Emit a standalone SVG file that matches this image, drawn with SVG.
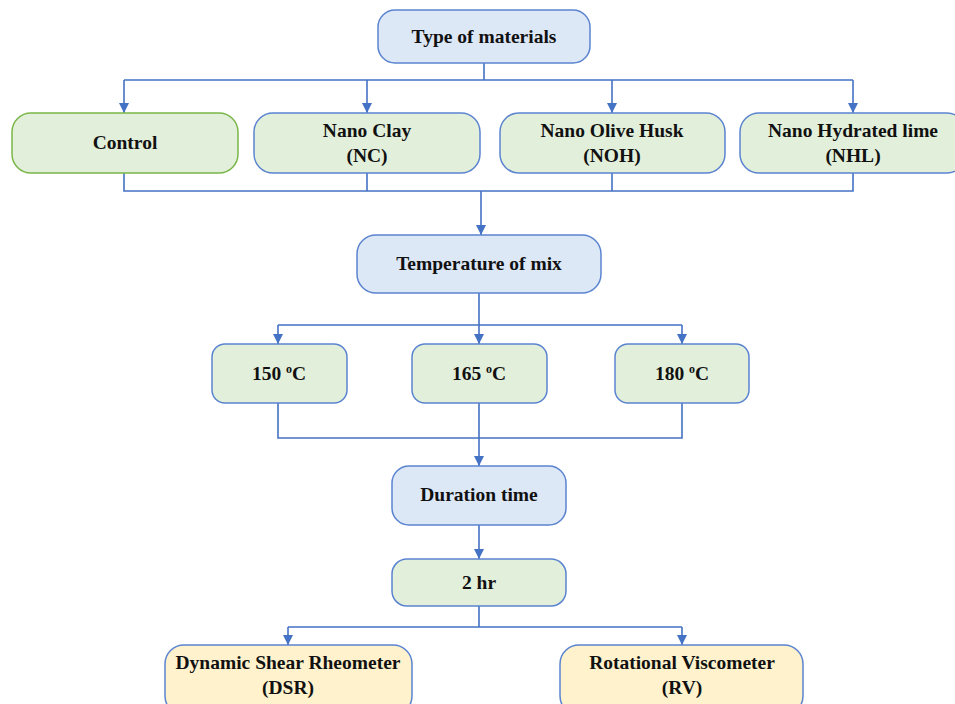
<svg xmlns="http://www.w3.org/2000/svg" width="955" height="704" viewBox="0 0 955 704">
<defs>
<marker id="arr" viewBox="0 0 10 10" refX="10" refY="5" markerWidth="10" markerHeight="10" markerUnits="userSpaceOnUse" orient="auto">
<path d="M0,0 L10,5 L0,10 z" fill="#4472c4"/>
</marker>
<style>
.blue{fill:#dde8f6;stroke:#5b84d0;stroke-width:1.5}
.green{fill:#e2efda;stroke:#5b84d0;stroke-width:1.5}
.greeng{fill:#e2efda;stroke:#7ab648;stroke-width:1.5}
.yellow{fill:#fff2cc;stroke:#5b84d0;stroke-width:1.5}
.t{font-weight:bold;font-size:19.5px;fill:#111;text-anchor:middle}
.c{fill:none;stroke:#4472c4;stroke-width:1.6}
.sup{font-size:12px}
</style>
</defs>
<rect width="955" height="704" fill="#fff"/>
<g id="connectors">
<path class="c" d="M484,63 V80 M124,80 H853"/>
<path class="c" d="M124,80 V113" marker-end="url(#arr)"/>
<path class="c" d="M367,80 V113" marker-end="url(#arr)"/>
<path class="c" d="M612,80 V113" marker-end="url(#arr)"/>
<path class="c" d="M853,80 V113" marker-end="url(#arr)"/>
<path class="c" d="M124,173 V191 H853 V173 M367,173 V191 M612,173 V191"/>
<path class="c" d="M481,191 V235" marker-end="url(#arr)"/>
<path class="c" d="M479,293 V325 M278,325 H682"/>
<path class="c" d="M278,325 V344" marker-end="url(#arr)"/>
<path class="c" d="M479,325 V344" marker-end="url(#arr)"/>
<path class="c" d="M682,325 V344" marker-end="url(#arr)"/>
<path class="c" d="M278,403 V438 H682 V403 M479,403 V438"/>
<path class="c" d="M479,438 V466" marker-end="url(#arr)"/>
<path class="c" d="M479,525 V559" marker-end="url(#arr)"/>
<path class="c" d="M479,606 V627 M288,627 H682"/>
<path class="c" d="M288,627 V645" marker-end="url(#arr)"/>
<path class="c" d="M682,627 V645" marker-end="url(#arr)"/>
</g>
<g font-family="Liberation Serif, Times New Roman, serif">
<g id="type">
<rect class="blue" x="378" y="10" width="212" height="53" rx="17"/>
<text class="t" x="484" y="43">Type of materials</text>
</g>
<g id="control">
<rect class="greeng" x="12" y="113" width="226" height="60" rx="19"/>
<text class="t" x="125" y="149">Control</text>
</g>
<g id="nc">
<rect class="green" x="254" y="113" width="226" height="60" rx="19"/>
<text class="t" x="367" y="137">Nano Clay</text>
<text class="t" x="367" y="162">(NC)</text>
</g>
<g id="noh">
<rect class="green" x="500" y="113" width="225" height="60" rx="19"/>
<text class="t" x="612" y="137">Nano Olive Husk</text>
<text class="t" x="612" y="162">(NOH)</text>
</g>
<g id="nhl">
<rect class="green" x="740" y="113" width="226" height="60" rx="19"/>
<text class="t" x="853" y="137">Nano Hydrated lime</text>
<text class="t" x="853" y="162">(NHL)</text>
</g>
<g id="temp">
<rect class="blue" x="357" y="235" width="244" height="58" rx="19"/>
<text class="t" x="479" y="270">Temperature of mix</text>
</g>
<g id="t150">
<rect class="green" x="212" y="344" width="135" height="59" rx="13"/>
<text class="t" x="279" y="380">150 <tspan class="sup" dy="-7">o</tspan><tspan dy="7">C</tspan></text>
</g>
<g id="t165">
<rect class="green" x="412" y="344" width="135" height="59" rx="13"/>
<text class="t" x="479" y="380">165 <tspan class="sup" dy="-7">o</tspan><tspan dy="7">C</tspan></text>
</g>
<g id="t180">
<rect class="green" x="615" y="344" width="134" height="59" rx="13"/>
<text class="t" x="682" y="380">180 <tspan class="sup" dy="-7">o</tspan><tspan dy="7">C</tspan></text>
</g>
<g id="duration">
<rect class="blue" x="392" y="466" width="174" height="59" rx="17"/>
<text class="t" x="479" y="501">Duration time</text>
</g>
<g id="hr">
<rect class="green" x="392" y="559" width="174" height="47" rx="15"/>
<text class="t" x="479" y="589">2 hr</text>
</g>
<g id="dsr">
<rect class="yellow" x="165" y="645" width="247" height="70" rx="19"/>
<text class="t" x="288" y="669">Dynamic Shear Rheometer</text>
<text class="t" x="288" y="694">(DSR)</text>
</g>
<g id="rv">
<rect class="yellow" x="560" y="645" width="243" height="70" rx="19"/>
<text class="t" x="682" y="669">Rotational Viscometer</text>
<text class="t" x="682" y="694">(RV)</text>
</g>
</g>
</svg>
